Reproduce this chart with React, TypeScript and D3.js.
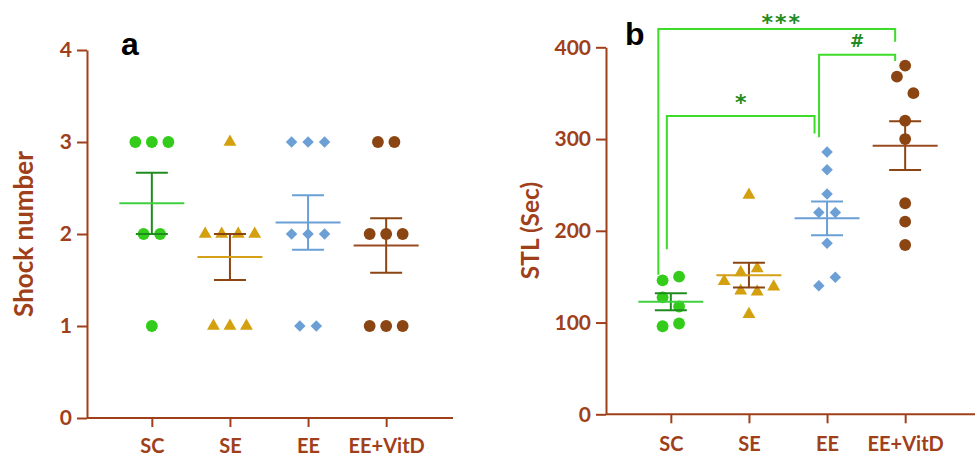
import React, { useEffect, useRef } from "react";
import * as d3 from "d3";

const groups = ["SC", "SE", "EE", "EE+VitD"];

// panel a - shock number per animal
const shockSC = [3, 3, 3, 2, 2, 1];
const shockSE = [3, 2, 2, 2, 2, 1, 1, 1];
const shockEE = [3, 3, 3, 2, 2, 2, 1, 1];
const shockVitD = [3, 3, 2, 2, 2, 1, 1, 1];
const shockTicks = [0, 1, 2, 3, 4];

// panel b - STL (sec) per animal
const stlSC = [146, 150, 127.5, 117.5, 96, 99];
const stlSE = [239, 154.5, 159, 145, 134.5, 133.5, 139, 109];
const stlEE = [286, 266.5, 240, 220, 220, 186.5, 140, 149.5];
const stlVitD = [380, 368, 350, 320, 300, 230, 210, 184.5];
const stlTicks = [0, 100, 200, 300, 400];

// significance brackets (values in STL units)
const brackets = [
  { from: "SC", to: "EE+VitD", top: 420, leftEnd: 152, rightEnd: 406, label: "***" },
  { from: "SC", to: "EE", top: 325, leftEnd: 180, rightEnd: 306, label: "*" },
  { from: "EE", to: "EE+VitD", top: 392, leftEnd: 302, rightEnd: 385, label: "#" },
];

const bracketLayout: Record<string, { dxL: number; dxR: number; base: number }> = {
  "***": { dxL: -12.5, dxR: -10, base: -1 },
  "*": { dxL: -4, dxR: -12.5, base: 6.5 },
  "#": { dxL: -8, dxR: -10, base: 7.5 },
};

const AXIS = "#a0401a";
const style: Record<string, any> = {
  SC: { fill: "#33cc1a", mean: "#3fcf3f", err: "#1f8c1f", shape: d3.symbolCircle, size: 110, rot: 0 },
  SE: { fill: "#d4a00f", mean: "#d4a017", err: "#8b4513", shape: d3.symbolTriangle, size: 72, rot: 0 },
  EE: { fill: "#6b9fd6", mean: "#6b9fd6", err: "#6b9fd6", shape: d3.symbolSquare, size: 66, rot: 45 },
  "EE+VitD": { fill: "#8b4513", mean: "#9a4a20", err: "#8b4513", shape: d3.symbolCircle, size: 110, rot: 0 },
};

// simple row-based scatter layout: points close in y share a row, spread in data order
function layoutRow(values: number[], y: d3.ScaleLinear<number, number>, gap: number, spacing: number) {
  const idx = d3.range(values.length).sort((a, b) => values[a] - values[b] || a - b);
  const rows: number[][] = [];
  let start = -Infinity;
  idx.forEach((i) => {
    if (!isFinite(start) || Math.abs(y(values[i]) - y(start)) > gap) {
      rows.push([i]);
      start = values[i];
    } else rows[rows.length - 1].push(i);
  });
  const off = new Array(values.length).fill(0);
  rows.forEach((r) => {
    r.sort((a, b) => a - b);
    r.forEach((i, k) => (off[i] = (k - (r.length - 1) / 2) * spacing));
  });
  return off;
}

function drawPanel(svg: any, opt: any) {
  const x = d3.scalePoint().domain(groups).range([opt.x0, opt.x0 + 364]).padding(0.83);
  const y = d3.scaleLinear().domain(opt.domain).range([opt.bottom, opt.top]);
  const g = svg.append("g");

  // y axis
  const ya = g
    .append("g")
    .attr("transform", `translate(${opt.x0},0)`)
    .call(d3.axisLeft(y).tickValues(opt.ticks).tickSize(10).tickPadding(5).tickSizeOuter(0).tickFormat(d3.format("d")));
  ya.select(".domain").attr("stroke", AXIS).attr("stroke-width", 2);
  ya.selectAll(".tick line").attr("stroke", AXIS).attr("stroke-width", 2);
  ya.selectAll(".tick text")
    .attr("fill", AXIS)
    .attr("font-family", "Lato")
    .attr("font-weight", "bold")
    .attr("font-size", 21);

  // x axis
  const xa = g
    .append("g")
    .attr("transform", `translate(0,${opt.bottom})`)
    .call(d3.axisBottom(x).tickSize(9).tickPadding(opt.xPad).tickSizeOuter(0));
  xa.select(".domain").remove();
  xa.append("line").attr("x1", opt.x0).attr("x2", opt.xEnd).attr("stroke", AXIS).attr("stroke-width", 2);
  xa.selectAll(".tick line").attr("stroke", AXIS).attr("stroke-width", 2);
  xa.selectAll(".tick text")
    .attr("fill", AXIS)
    .attr("font-family", "Lato")
    .attr("font-weight", "bold")
    .attr("font-size", 20);

  // y title
  g.append("text")
    .attr("transform", `translate(${opt.titleX},${opt.titleY}) rotate(-90)`)
    .attr("text-anchor", "middle")
    .attr("fill", AXIS)
    .attr("font-family", "Lato")
    .attr("font-weight", "bold")
    .attr("font-size", opt.titleSize)
    .text(opt.title);

  // panel letter
  g.append("text")
    .attr("x", opt.letterX)
    .attr("y", opt.letterY)
    .attr("font-family", "Liberation Sans, Arial")
    .attr("font-weight", "bold")
    .attr("font-size", 32)
    .attr("fill", "#000")
    .text(opt.letter);

  groups.forEach((grp, gi) => {
    const vals: number[] = opt.series[gi];
    const s = style[grp];
    const cx = x(grp)!;
    const off = layoutRow(vals, y, 17.6, 16.5);
    const sym = d3.symbol().type(s.shape).size(s.size);
    g.append("g")
      .selectAll("path")
      .data(vals)
      .join("path")
      .attr("d", sym)
      .attr("fill", s.fill)
      .attr("transform", (d: number, i: number) => `translate(${cx + off[i]},${y(d)}) rotate(${s.rot})`);

    const m = d3.mean(vals)!;
    const sem = d3.deviation(vals)! / Math.sqrt(vals.length);
    const eb = g.append("g").attr("stroke-width", 2).attr("fill", "none");
    eb.append("line").attr("x1", cx).attr("x2", cx).attr("y1", y(m - sem)).attr("y2", y(m + sem)).attr("stroke", s.err);
    [m - sem, m + sem].forEach((v) =>
      eb.append("line").attr("x1", cx - 16).attr("x2", cx + 16).attr("y1", y(v)).attr("y2", y(v)).attr("stroke", s.err)
    );
    eb.append("line").attr("x1", cx - 32.5).attr("x2", cx + 32.5).attr("y1", y(m)).attr("y2", y(m)).attr("stroke", s.mean);
  });

  if (opt.brackets) {
    const bg = g.append("g");
    opt.brackets.forEach((b: any) => {
      const l = bracketLayout[b.label];
      const xl = x(b.from)! + l.dxL;
      const xr = x(b.to)! + l.dxR;
      bg.append("path")
        .attr("d", `M${xl},${y(b.leftEnd)}V${y(b.top)}H${xr}V${y(b.rightEnd)}`)
        .attr("fill", "none")
        .attr("stroke", "#3cdc28")
        .attr("stroke-width", 2);
      bg.append("text")
        .attr("x", (xl + xr) / 2 + (b.label === "***" ? 5 : 0))
        .attr("y", y(b.top) - l.base)
        .attr("text-anchor", "middle")
        .attr("font-family", "DejaVu Sans")
        .attr("font-weight", "bold")
        .attr("font-size", b.label === "#" ? 17 : 22)
        .attr("letter-spacing", b.label === "***" ? 2 : 0)
        .attr("fill", "#1e8c1e")
        .text(b.label);
    });
  }
}

export default function App() {
  const ref = useRef<SVGSVGElement>(null);

  useEffect(() => {
    const svg = d3.select(ref.current);
    svg.selectAll("*").remove();
    svg.append("rect").attr("width", 975).attr("height", 457).attr("fill", "#fff");

    drawPanel(svg, {
      x0: 87, xEnd: 453, top: 50, bottom: 418, domain: [0, 4], ticks: shockTicks,
      series: [shockSC, shockSE, shockEE, shockVitD], xPad: 11.5,
      title: "Shock number", titleX: 33, titleY: 234, titleSize: 26,
      letter: "a", letterX: 121, letterY: 55,
    });
    drawPanel(svg, {
      x0: 606, xEnd: 975, top: 47.3, bottom: 414.3, domain: [0, 400], ticks: stlTicks,
      series: [stlSC, stlSE, stlEE, stlVitD], xPad: 14,
      title: "STL (Sec)", titleX: 539, titleY: 230.5, titleSize: 24.5,
      letter: "b", letterX: 625, letterY: 45, brackets,
    });
  }, []);

  return (
    <svg
      ref={ref}
      width={975}
      height={457}
      style={{ position: "absolute", left: 0, top: 0, display: "block" }}
    />
  );
}
